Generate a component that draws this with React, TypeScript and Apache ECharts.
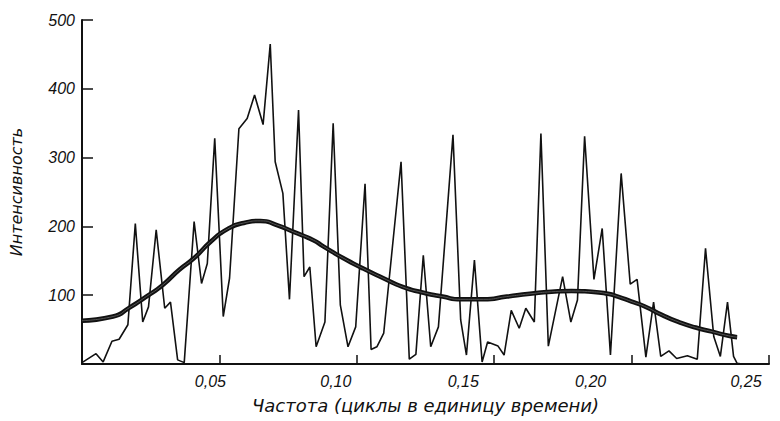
import React, { useEffect, useRef } from "react";
import * as echarts from "echarts";

// Raw spectrum estimate (frequency, intensity)
const rawFreq = [
  0.0, 0.0051, 0.0077, 0.0109, 0.0135, 0.0167, 0.0194, 0.0221, 0.0242, 0.027,
  0.0301, 0.0322, 0.0348, 0.0372, 0.0408, 0.0435, 0.0456, 0.0483, 0.0514, 0.0537,
  0.0571, 0.0601, 0.0628, 0.0659, 0.0685, 0.0703, 0.0731, 0.0755, 0.0788, 0.0808,
  0.0829, 0.0852, 0.0884, 0.0914, 0.094, 0.0968, 0.0996, 0.103, 0.1052, 0.1073,
  0.1098, 0.1161, 0.1191, 0.1215, 0.1242, 0.1269, 0.1297, 0.135, 0.1378, 0.1399,
  0.1428, 0.1456, 0.1476, 0.1514, 0.1536, 0.1562, 0.1591, 0.1615, 0.1646, 0.167,
  0.1697, 0.1749, 0.1779, 0.1803, 0.1829, 0.1863, 0.1893, 0.1923, 0.1962, 0.1995,
  0.202, 0.2052, 0.208, 0.2106, 0.2136, 0.2164, 0.2203, 0.2239, 0.2269, 0.2299,
  0.2323, 0.2349, 0.2371, 0.2384, 0.2402,
];
const rawValue = [
  2, 15, 3, 33, 36, 57, 204, 61, 83, 195,
  81, 90, 6, 2, 207, 117, 146, 328, 69, 125,
  342, 357, 391, 348, 465, 294, 248, 94, 369, 127,
  141, 25, 61, 350, 86, 25, 54, 262, 21, 25,
  45, 294, 7, 14, 158, 25, 54, 333, 64, 13,
  151, 3, 32, 26, 13, 78, 52, 81, 61, 335,
  26, 127, 61, 93, 331, 123, 197, 13, 277, 116,
  123, 10, 90, 11, 19, 8, 12, 7, 168, 40,
  11, 90, 11, 1, 0,
];

// Smoothed spectrum (frequency, intensity)
const smoothFreq = [
  0.0, 0.0113, 0.0173, 0.0234, 0.0294, 0.0354, 0.0408, 0.0469, 0.0529, 0.0589,
  0.0649, 0.0709, 0.077, 0.0842, 0.0878, 0.095, 0.1022, 0.1095, 0.1167, 0.1239,
  0.1312, 0.1378, 0.1462, 0.1546, 0.163, 0.1709, 0.1781, 0.1853, 0.1914, 0.195,
  0.1998, 0.2046, 0.2112, 0.2172, 0.2233, 0.2293, 0.2353, 0.2384,
];
const smoothValue = [
  63, 69, 82, 98, 115, 137, 154, 178, 196, 205,
  208, 202, 192, 180, 171, 154, 139, 125, 112, 104,
  98, 94, 94, 98, 102, 105, 106, 105, 102, 98,
  91, 84, 71, 61, 53, 47, 41, 39,
];

const xTickLabels = ["0,05", "0,10", "0,15", "0,20", "0,25"];
const yTickLabels = ["100", "200", "300", "400", "500"];

const FONT = "'Liberation Sans', Arial, sans-serif";
const NAME_FONT = "'DejaVu Sans', 'Liberation Sans', sans-serif";

export default function App() {
  const ref = useRef<HTMLDivElement>(null);

  useEffect(() => {
    if (!ref.current) return;
    const chart = echarts.init(ref.current, null, { renderer: "svg" });
    const rawData = rawFreq.map((f, i) => [f, rawValue[i]]);
    const smoothData = smoothFreq.map((f, i) => [f, smoothValue[i]]);
    const xRich: Record<string, any> = {};
    const pads = [18, 42, 62, 82, 46];
    xTickLabels.forEach((_, i) => {
      xRich["l" + i] = {
        fontFamily: FONT,
        fontStyle: "italic",
        fontSize: 16,
        color: "#111",
        padding: [0, pads[i], 0, 0],
      };
    });
    chart.setOption({
      animation: false,
      backgroundColor: "#fff",
      grid: { left: 77, right: 11, top: 20, bottom: 57, containLabel: false },
      xAxis: {
        type: "value",
        min: 0,
        max: 0.25,
        interval: 0.05,
        name: "Частота (циклы в единицу времени)",
        nameLocation: "middle",
        nameGap: 32,
        nameTextStyle: {
          fontFamily: NAME_FONT,
          fontStyle: "italic",
          fontSize: 18,
          color: "#111",
        },
        axisLine: { show: true, lineStyle: { color: "#111", width: 2 } },
        axisTick: { show: true, inside: true, length: 9, lineStyle: { color: "#111", width: 1.5 } },
        splitLine: { show: false },
        axisLabel: {
          margin: 9,
          color: "#111",
          formatter: (v: number) => {
            const idx = Math.round(v / 0.05) - 1;
            if (idx < 0 || idx >= xTickLabels.length) return "";
            return "{l" + idx + "|" + xTickLabels[idx] + "}";
          },
          rich: xRich,
        },
      },
      yAxis: {
        type: "value",
        min: 0,
        max: 500,
        interval: 100,
        name: "Интенсивность",
        nameLocation: "middle",
        nameGap: 58,
        nameRotate: 90,
        nameTextStyle: {
          fontFamily: NAME_FONT,
          fontStyle: "italic",
          fontSize: 16,
          color: "#111",
        },
        axisLine: { show: true, lineStyle: { color: "#111", width: 2 } },
        axisTick: { show: true, inside: true, length: 11, lineStyle: { color: "#111", width: 1.5 } },
        splitLine: { show: false },
        axisLabel: {
          margin: 7,
          fontFamily: FONT,
          fontStyle: "italic",
          fontSize: 16,
          color: "#111",
          formatter: (v: number) => {
            const idx = Math.round(v / 100) - 1;
            if (idx < 0 || idx >= yTickLabels.length) return "";
            return yTickLabels[idx];
          },
        },
      },
      series: [
        {
          type: "line",
          data: rawData,
          symbol: "none",
          lineStyle: { color: "#111", width: 1.6 },
          z: 2,
        },
        {
          type: "line",
          data: smoothData,
          symbol: "none",
          smooth: 0.6,
          lineStyle: { color: "#111", width: 4.5 },
          z: 3,
        },
        {
          type: "line",
          data: smoothData,
          symbol: "none",
          smooth: 0.6,
          lineStyle: { color: "#666", width: 0.8 },
          z: 4,
        },
      ],
    });
    return () => chart.dispose();
  }, []);

  return <div ref={ref} style={{ width: 780, height: 421, position: "absolute", left: 0, top: 0 }} />;
}
